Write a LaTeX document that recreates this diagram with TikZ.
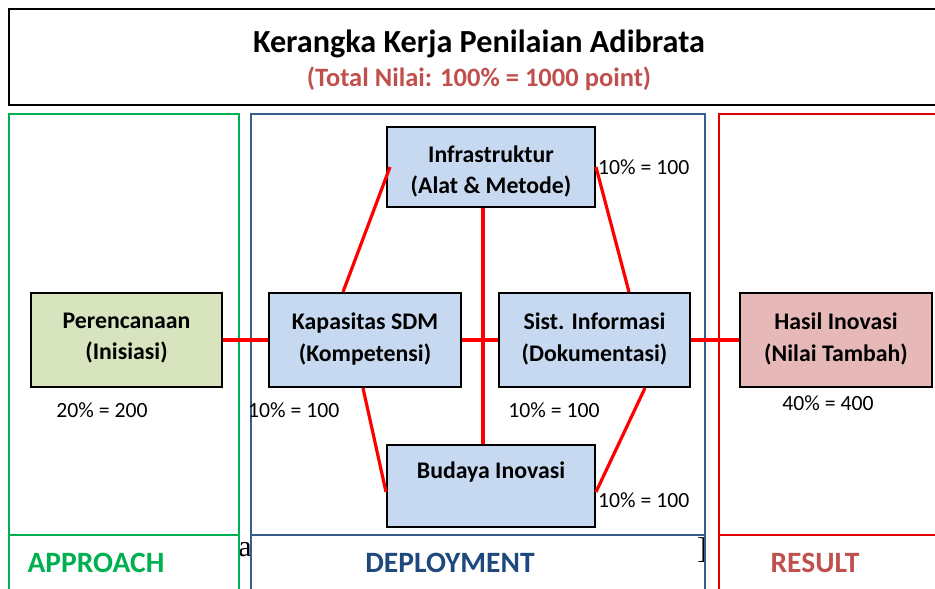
\documentclass[tikz,border=0pt]{standalone}
\usepackage{fontspec}
\setmainfont{Carlito}
\newfontfamily\serifx{Liberation Serif}
\definecolor{ggreen}{HTML}{00B050}
\definecolor{bblue}{HTML}{385D8A}
\definecolor{dblue}{HTML}{1F497D}
\definecolor{rred}{HTML}{E00000}
\definecolor{tred}{HTML}{C0504D}
\definecolor{fgreen}{HTML}{D7E4BD}
\definecolor{fblue}{HTML}{C6D9F1}
\definecolor{fred}{HTML}{E6B9B8}
\tikzset{
  box/.style={draw=black, line width=2pt, inner sep=0pt},
  boxtext/.style={align=center, inner sep=0pt,
    font=\fontsize{23.8}{31.5}\selectfont\bfseries},
  link/.style={draw=red, line width=3.2pt},
  pct/.style={font=\fontsize{21.7}{25}\selectfont, inner sep=0pt},
  panel/.style={line width=1.6pt},
  head/.style={font=\fontsize{29.5}{32}\selectfont\bfseries, inner sep=0pt}
}
\begin{document}
\begin{tikzpicture}[x=1pt,y=-1pt]
\useasboundingbox (0,0) rectangle (935,589);
\clip (0,0) rectangle (935,589);
% title
\draw[line width=2.2pt] (9,9) rectangle (950,105);
\node[font=\fontsize{32.2}{36}\selectfont\bfseries, inner sep=0pt] (title) at (479,44) {Kerangka Kerja Penilaian Adibrata};
\node[font=\fontsize{26.5}{30}\selectfont\bfseries, text=tred, inner sep=0pt] (sub) at (479,79) {(Total Nilai: 100\% = 1000 point)};
% stray characters
\node[font=\serifx\fontsize{30}{32}\selectfont, inner sep=0pt] (sa) at (245,550) {a};
\node[font=\serifx\fontsize{30}{32}\selectfont, inner sep=0pt] (sb) at (702,550) {]};
% panels
\draw[panel, ggreen] (9,600) -- (9,114) -- (239,114) -- (239,600);
\draw[panel, ggreen] (9,535) -- (239,535);
\draw[panel, bblue] (251,600) -- (251,114) -- (705,114) -- (705,600);
\draw[panel, bblue] (251,535) -- (705,535);
\draw[panel, rred] (719,600) -- (719,114) -- (950,114);
\draw[panel, rred] (719,535) -- (950,535);
\node[head, text=ggreen] (ap) at (96,563) {APPROACH};
\node[head, text=dblue] (dp) at (450,563) {DEPLOYMENT};
\node[head, text=tred] (rs) at (815,563) {RESULT};
% nodes
\node[box, fill=fgreen, minimum width=191pt, minimum height=94pt] (per) at (126.5,340) {};
\node[box, fill=fblue, minimum width=192pt, minimum height=94pt] (kap) at (365,340) {};
\node[box, fill=fblue, minimum width=191pt, minimum height=94pt] (sist) at (594.5,340) {};
\node[box, fill=fred, minimum width=192pt, minimum height=94pt] (has) at (836,340) {};
\node[box, fill=fblue, minimum width=208pt, minimum height=80pt] (inf) at (491,167) {};
\node[box, fill=fblue, minimum width=208pt, minimum height=82pt] (bud) at (491,486) {};
\node[boxtext] (pert) at ([yshift=2pt]per.center) {Perencanaan\\(Inisiasi)};
\node[boxtext] (kapt) at ([yshift=1pt]kap.center) {Kapasitas SDM\\(Kompetensi)};
\node[boxtext] (sistt) at ([yshift=1pt]sist.center) {Sist. Informasi\\(Dokumentasi)};
\node[boxtext] (hast) at ([yshift=1pt]has.center) {Hasil Inovasi\\(Nilai Tambah)};
\node[boxtext] (inft) at ([yshift=-4.5pt]inf.center) {Infrastruktur\\(Alat \& Metode)};
\node[boxtext] (budt) at ([yshift=14pt]bud.center) {Budaya Inovasi};
% links
\draw[link] (per.east) -- (kap.west);
\draw[link] (kap.east) -- (sist.west);
\draw[link] (sist.east) -- (has.west);
\draw[link] ([xshift=-8pt]inf.south) -- ([xshift=-8pt]bud.north);
\draw[link] ([xshift=4pt]inf.west) -- ([xshift=-22pt]kap.north);
\draw[link] (inf.east) -- ([xshift=34.5pt]sist.north);
\draw[link] ([xshift=-2pt]kap.south) -- ([yshift=-6pt]bud.west);
\draw[link] ([xshift=50.5pt]sist.south) -- ([yshift=-6pt]bud.east);
% percentages
\node[pct, anchor=west] (p1) at (598,167) {10\% = 100};
\node[pct] (p2) at (102,410) {20\% = 200};
\node[pct, anchor=west] (p3) at (248,410) {10\% = 100};
\node[pct] (p4) at (554,410) {10\% = 100};
\node[pct, anchor=west] (p5) at (598,500) {10\% = 100};
\node[pct] (p6) at (828,403) {40\% = 400};
\end{tikzpicture}
\end{document}
